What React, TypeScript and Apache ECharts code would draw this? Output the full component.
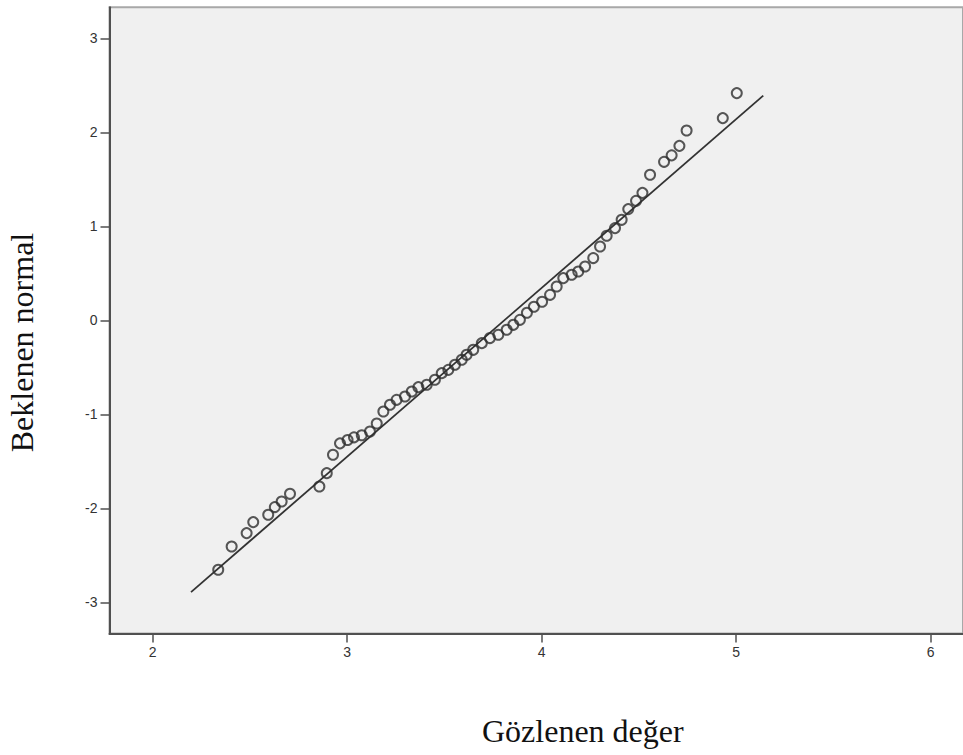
import React, { useEffect, useRef } from "react";
import * as echarts from "echarts";

const observed = [
  2.337, 2.406, 2.483, 2.517, 2.594, 2.628, 2.663, 2.706, 2.857, 2.895,
  2.927, 2.963, 3.002, 3.035, 3.075, 3.117, 3.152, 3.186, 3.22, 3.254,
  3.297, 3.332, 3.366, 3.409, 3.451, 3.486, 3.52, 3.554, 3.589, 3.614,
  3.648, 3.692, 3.734, 3.777, 3.82, 3.854, 3.888, 3.924, 3.96, 4.002,
  4.043, 4.077, 4.111, 4.154, 4.188, 4.223, 4.265, 4.3, 4.334, 4.377,
  4.411, 4.445, 4.485, 4.518, 4.557, 4.629, 4.668, 4.708, 4.745, 4.931,
  5.003,
];
const expectedNormal = [
  -2.654, -2.406, -2.264, -2.147, -2.069, -1.987, -1.928, -1.846, -1.768, -1.626,
  -1.431, -1.309, -1.274, -1.245, -1.223, -1.183, -1.098, -0.97, -0.899, -0.846,
  -0.811, -0.757, -0.711, -0.686, -0.633, -0.562, -0.527, -0.473, -0.42, -0.367,
  -0.314, -0.243, -0.189, -0.154, -0.101, -0.048, 0.005, 0.08, 0.144, 0.197,
  0.271, 0.36, 0.449, 0.484, 0.519, 0.572, 0.662, 0.785, 0.899, 0.981,
  1.069, 1.183, 1.271, 1.356, 1.548, 1.686, 1.755, 1.856, 2.019, 2.151,
  2.417,
];
// Reference line end points
const refLineX = [2.197, 5.139];
const refLineY = [-2.892, 2.39];
// Tick labels
const xTicks = [2, 3, 4, 5, 6];
const yTicks = [-3, -2, -1, 0, 1, 2, 3];

const xTitle = "Gözlenen değer";
const yTitle = "Beklenen normal";

export default function App() {
  const ref = useRef<HTMLDivElement>(null);

  useEffect(() => {
    if (!ref.current) return;
    const chart = echarts.init(ref.current, null, { renderer: "svg" });
    const points = observed.map((x, i) => [x, expectedNormal[i]]);
    const line = refLineX.map((x, i) => [x, refLineY[i]]);
    const labelStyle = {
      color: "#333",
      fontSize: 14,
      fontFamily: "Liberation Sans, Arial, sans-serif",
    };
    chart.setOption({
      animation: false,
      backgroundColor: "#ffffff",
      grid: {
        left: 109.5,
        top: 7.2,
        right: 0,
        bottom: 121.5,
        show: true,
        backgroundColor: "#f0f0f0",
        borderColor: "#a8a8a8",
        borderWidth: 2,
      },
      xAxis: {
        type: "value",
        min: 1.778,
        max: 6.166,
        splitLine: { show: false },
        axisLine: { show: true, onZero: false, lineStyle: { color: "#505050", width: 2 } },
        axisTick: {
          show: true,
          length: 9,
          customValues: xTicks,
          lineStyle: { color: "#505050", width: 1.5 },
        },
        axisLabel: { ...labelStyle, margin: 11, customValues: xTicks },
      },
      yAxis: {
        type: "value",
        min: -3.332,
        max: 3.331,
        splitLine: { show: false },
        axisLine: { show: true, onZero: false, lineStyle: { color: "#505050", width: 2 } },
        axisTick: {
          show: true,
          length: 9,
          customValues: yTicks,
          lineStyle: { color: "#505050", width: 1.5 },
        },
        axisLabel: { ...labelStyle, margin: 12, customValues: yTicks },
      },
      graphic: [
        {
          type: "text",
          left: 583 - 101,
          top: 715,
          style: {
            text: xTitle,
            fill: "#111",
            font: "32px 'Liberation Serif', 'Times New Roman', serif",
          },
        },
        {
          type: "text",
          x: 22,
          y: 342.5,
          rotation: Math.PI / 2,
          style: {
            text: yTitle,
            fill: "#111",
            font: "32px 'Liberation Serif', 'Times New Roman', serif",
            align: "center",
            verticalAlign: "middle",
          },
        },
      ],
      series: [
        {
          type: "line",
          data: line,
          symbol: "none",
          lineStyle: { color: "#333", width: 1.8 },
          z: 2,
        },
        {
          type: "scatter",
          data: points,
          symbol: "circle",
          symbolSize: 10,
          itemStyle: {
            color: "rgba(0,0,0,0)",
            borderColor: "#2e2e2e",
            borderWidth: 2,
          },
          z: 3,
        },
      ],
    });
    return () => chart.dispose();
  }, []);

  return (
    <div
      ref={ref}
      style={{ position: "fixed", left: 0, top: 0, width: 963, height: 755 }}
    />
  );
}
